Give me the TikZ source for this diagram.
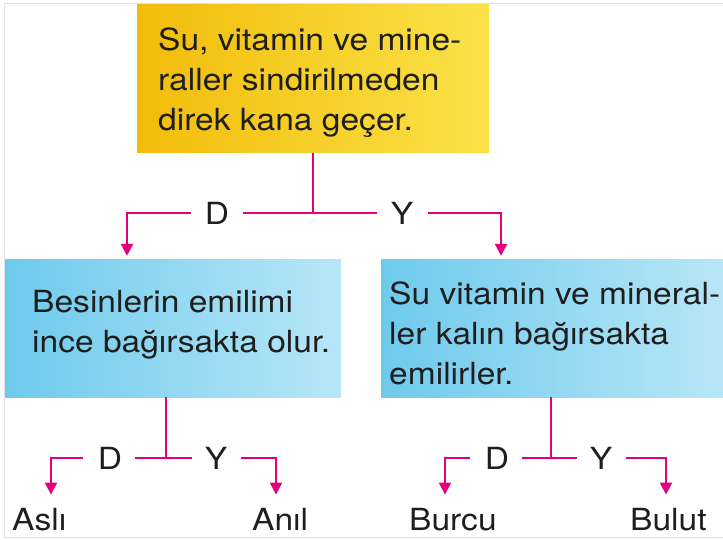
\documentclass[tikz,border=0pt]{standalone}
\usepackage{fontspec}
\setmainfont{TeX Gyre Heros}[FakeStretch=1.1]
\usetikzlibrary{arrows.meta,calc}
\definecolor{pinkline}{RGB}{228,0,124}
\definecolor{yelL}{RGB}{242,188,10}
\definecolor{yelR}{RGB}{250,226,72}
\definecolor{bluL}{RGB}{110,202,236}
\definecolor{bluR}{RGB}{184,230,247}
\definecolor{frame}{RGB}{225,225,225}
\definecolor{ink}{RGB}{30,30,30}
\begin{document}
\begin{tikzpicture}[x=1pt,y=-1pt,
  ybox/.style={rectangle,inner sep=0pt,draw=none,left color=yelL,right color=yelR},
  bbox/.style={rectangle,inner sep=0pt,draw=none,left color=bluL,right color=bluR},
  txt/.style={inner sep=0pt,align=left,text=ink,font=\fontsize{30.5}{40}\selectfont},
  lab/.style={inner sep=0pt,text=ink,font=\fontsize{30.5}{40}\selectfont},
  conn/.style={draw=pinkline,line width=2.2pt},
  arr/.style={conn,-{Triangle[length=12pt,width=12pt]}}
  ]
\useasboundingbox (0,0) rectangle (723,540);
% frame
\draw[frame,line width=1pt] (4,3) -- (4,537) -- (723,537);
\draw[frame,line width=0.6pt] (4,3) -- (723,3);
% boxes
\node[ybox,minimum width=352pt,minimum height=148pt] (top) at (313,79) {};
\node[bbox,minimum width=336pt,minimum height=137pt] (lbox) at (173,328.5) {};
\node[bbox,minimum width=342pt,minimum height=137pt] (rbox) at (552,328.5) {};
% texts
\node[txt,anchor=north west] (toptxt) at (158,28) {Su, vitamin ve mine-\\raller sindirilmeden\\direk kana geçer.};
\node[txt,anchor=north west] (ltxt) at (32,290) {Besinlerin emilimi\\ince bağırsakta olur.};
\node[txt,anchor=north west] (rtxt) at (389,282) {Su vitamin ve mineral-\\ler kalın bağırsakta\\emilirler.};
% D / Y labels
\node[lab] (d1) at (217,213) {D};
\node[lab] (y1) at (402,213) {Y};
\node[lab] (d2) at (110,458) {D};
\node[lab] (y2) at (216,458) {Y};
\node[lab] (d3) at (497,458) {D};
\node[lab] (y3) at (601,458) {Y};
% names
\node[lab,anchor=base west] (asli) at (12,530) {Aslı};
\node[lab,anchor=base west] (anil) at (252,530) {Anıl};
\node[lab,anchor=base west] (burcu) at (409,530) {Burcu};
\node[lab,anchor=base west] (bulut) at (630,530) {Bulut};
% junctions and corners
\coordinate (j1) at (313,213);
\coordinate (c1l) at (127,213);
\coordinate (c1r) at (501,213);
\coordinate (j2) at (166,458);
\coordinate (c2l) at (51,458);
\coordinate (c2r) at (276,458);
\coordinate (j3) at (551,458);
\coordinate (c3l) at (445,458);
\coordinate (c3r) at (666,458);
% top connectors
\draw[conn] (top.south -| j1) -- (j1);
\draw[conn] ([xshift=14pt]d1.east |- j1) -- ([xshift=-14pt]y1.west |- j1);
\draw[arr,shorten >=4pt] ([xshift=-14pt]d1.west |- j1) -- (c1l) -- (c1l |- lbox.north);
\draw[arr,shorten >=4pt] ([xshift=15pt]y1.east |- j1) -- (c1r) -- (c1r |- rbox.north);
% left lower
\draw[conn] (lbox.south -| j2) -- (j2);
\draw[conn] ([xshift=13pt]d2.east |- j2) -- ([xshift=-13pt]y2.west |- j2);
\draw[arr,shorten >=13pt] ([xshift=-15pt]d2.west |- j2) -- (c2l) -- (c2l |- asli.north);
\draw[arr,shorten >=13pt] ([xshift=14pt]y2.east |- j2) -- (c2r) -- (c2r |- anil.north);
% right lower
\draw[conn] (rbox.south -| j3) -- (j3);
\draw[conn] ([xshift=13pt]d3.east |- j3) -- ([xshift=-13pt]y3.west |- j3);
\draw[arr,shorten >=13pt] ([xshift=-15pt]d3.west |- j3) -- (c3l) -- (c3l |- burcu.north);
\draw[arr,shorten >=13pt] ([xshift=14pt]y3.east |- j3) -- (c3r) -- (c3r |- bulut.north);
\end{tikzpicture}
\end{document}
